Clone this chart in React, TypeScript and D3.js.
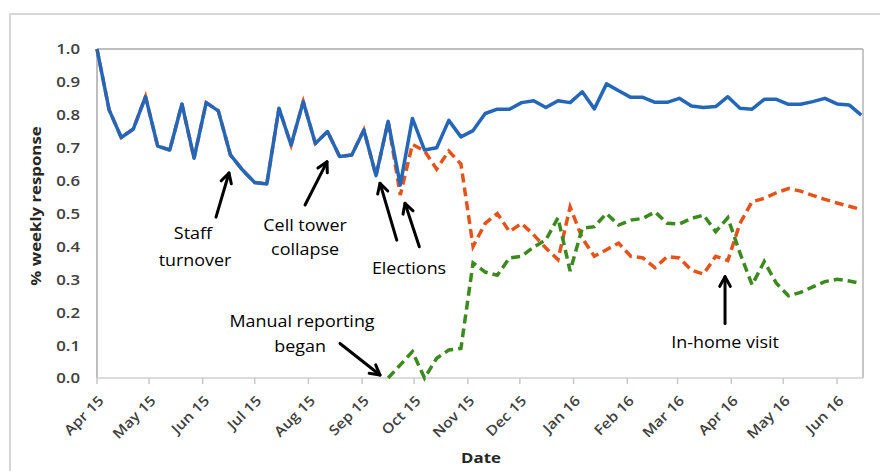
import React from 'react';
import * as d3 from 'd3';

// weekly response rates, one value per week starting Apr 1 2015
const smsAndManual = [
  1.0, 0.815, 0.731, 0.757, 0.855, 0.705, 0.693, 0.833, 0.668, 0.837,
  0.812, 0.678, 0.632, 0.594, 0.59, 0.82, 0.708, 0.84, 0.713, 0.749,
  0.673, 0.678, 0.754, 0.615, 0.78, 0.587, 0.789, 0.693, 0.7, 0.783,
  0.733, 0.752, 0.804, 0.817, 0.817, 0.837, 0.843, 0.822, 0.843, 0.837,
  0.87, 0.818, 0.894, 0.873, 0.853, 0.853, 0.838, 0.838, 0.85, 0.827,
  0.822, 0.825, 0.855, 0.82, 0.817, 0.847, 0.847, 0.832, 0.832, 0.84,
  0.85, 0.833, 0.83, 0.799,
];

const smsOnly = [
  1.0, 0.815, 0.731, 0.757, 0.855, 0.705, 0.693, 0.833, 0.668, 0.837,
  0.812, 0.678, 0.632, 0.594, 0.59, 0.82, 0.708, 0.84, 0.713, 0.749,
  0.673, 0.678, 0.754, 0.615, 0.78, 0.556, 0.71, 0.69, 0.635, 0.69,
  0.65, 0.4, 0.47, 0.5, 0.445, 0.47, 0.435, 0.395, 0.36, 0.52,
  0.425, 0.37, 0.39, 0.41, 0.37, 0.365, 0.335, 0.369, 0.365, 0.328,
  0.316, 0.37, 0.357, 0.47, 0.536, 0.546, 0.563, 0.576, 0.568, 0.555,
  0.543, 0.532, 0.522, 0.512,
];

const manualOnly = [
  null, null, null, null, null, null, null, null, null, null,
  null, null, null, null, null, null, null, null, null, null,
  null, null, null, null, 0.0, 0.04, 0.08, 0.0, 0.06, 0.085,
  0.09, 0.35, 0.322, 0.312, 0.365, 0.37, 0.398, 0.42, 0.487, 0.325,
  0.455, 0.46, 0.5, 0.465, 0.48, 0.485, 0.505, 0.47, 0.468, 0.485,
  0.495, 0.445, 0.487, 0.38, 0.283, 0.354, 0.288, 0.25, 0.26, 0.277,
  0.293, 0.3, 0.295, 0.287,
];

const monthLabels = [
  'Apr 15', 'May 15', 'Jun 15', 'Jul 15', 'Aug 15', 'Sep 15', 'Oct 15', 'Nov 15',
  'Dec 15', 'Jan 16', 'Feb 16', 'Mar 16', 'Apr 16', 'May 16', 'Jun 16',
];
const yTicks = [0, 0.1, 0.2, 0.3, 0.4, 0.5, 0.6, 0.7, 0.8, 0.9, 1.0];

// annotation positions in (week index, response) units
const arrows = [
  { from: [9.81, 0.489], to: [10.88, 0.623] },
  { from: [17.15, 0.526], to: [18.96, 0.657] },
  { from: [24.71, 0.419], to: [23.33, 0.592] },
  { from: [26.57, 0.399], to: [25.39, 0.531] },
  { from: [20.03, 0.105], to: [23.33, 0.009] },
  { from: [51.77, 0.166], to: [51.77, 0.308] },
];
const notes = [
  { text: 'Staff', at: [7.91, 0.441] },
  { text: 'turnover', at: [8.08, 0.359] },
  { text: 'Cell tower', at: [17.15, 0.465] },
  { text: 'collapse', at: [17.15, 0.392] },
  { text: 'Elections', at: [25.72, 0.334] },
  { text: 'Manual reporting', at: [16.9, 0.173] },
  { text: 'began', at: [16.74, 0.097] },
  { text: 'In-home visit', at: [51.77, 0.109] },
];

const startDate = new Date(2015, 3, 1);
const endDate = new Date(2016, 5, 16);
const weekDates = d3.range(smsAndManual.length).map(i => d3.timeDay.offset(startDate, 7 * i));
const monthDates = monthLabels.map((_, i) => d3.timeMonth.offset(startDate, i));

const FONT = '"Open Sans", "Liberation Sans", sans-serif';
const STRETCH = 1.12;

export default function App() {
  const margin = { left: 97, right: 863, top: 49, bottom: 378 };
  const x = d3.scaleTime().domain([startDate, endDate]).range([margin.left, margin.right]);
  const y = d3.scaleLinear().domain([0, 1]).range([margin.bottom, margin.top]);

  const xw = (w: number) => x(new Date(startDate.getTime() + w * 7 * 86400000));

  const line = d3.line<number | null>()
    .defined(d => d != null)
    .x((_, i) => x(weekDates[i]))
    .y(d => y(d as number));

  const arrowHead = (fx: number, fy: number, tx: number, ty: number) => {
    const a = Math.atan2(ty - fy, tx - fx);
    const len = 11;
    const spread = 0.5;
    const p1 = [tx - len * Math.cos(a - spread), ty - len * Math.sin(a - spread)];
    const p2 = [tx - len * Math.cos(a + spread), ty - len * Math.sin(a + spread)];
    return `M${p1[0]},${p1[1]}L${tx},${ty}L${p2[0]},${p2[1]}`;
  };

  return (
    <svg width={880} height={471} style={{ position: 'absolute', left: 0, top: 0, background: '#fff' }}>
      <rect x={10} y={14} width={900} height={500} fill="#fff" stroke="#d6d6d6" strokeWidth={2} />

      {/* plot frame */}
      <line x1={margin.left} x2={margin.right} y1={margin.top} y2={margin.top} stroke="#a8a8a8" strokeWidth={1.5} />
      <line x1={margin.right} x2={margin.right} y1={margin.top} y2={margin.bottom} stroke="#b4b4b4" strokeWidth={1.5} />
      <line x1={margin.left} x2={margin.left} y1={margin.top} y2={margin.bottom} stroke="#a8a8a8" strokeWidth={1.5} />
      <line x1={margin.left} x2={margin.right} y1={margin.bottom} y2={margin.bottom} stroke="#d0d0d0" strokeWidth={1.5} />
      {monthDates.map((d, i) => (
        <line key={i} x1={x(d)} x2={x(d)} y1={margin.bottom} y2={margin.bottom + 6} stroke="#c8c8c8" strokeWidth={1.5} />
      ))}

      {/* y ticks */}
      {yTicks.map(t => (
        <text key={t} transform={`translate(80,${y(t)}) scale(${STRETCH},1)`} dy="0.36em" textAnchor="end"
          fontFamily={FONT} fontSize={15} fontWeight={600} fill="#404040">{t.toFixed(1)}</text>
      ))}

      {/* x ticks */}
      {monthDates.map((d, i) => (
        <text key={i} transform={`translate(${x(d) + 4},${margin.bottom + 20}) rotate(-45) scale(${STRETCH},1)`}
          dy="0.36em" textAnchor="end" fontFamily={FONT} fontSize={14} fontWeight={600} fill="#404040">{monthLabels[i]}</text>
      ))}

      {/* axis titles */}
      <text transform={`translate(${481},458) scale(${STRETCH},1)`} textAnchor="middle" dy="0.36em"
        fontFamily={FONT} fontSize={15} fontWeight={700} fill="#262626">Date</text>
      <text transform={`translate(36,206) rotate(-90) scale(${STRETCH},1)`} textAnchor="middle" dy="0.36em"
        fontFamily={FONT} fontSize={15} fontWeight={700} fill="#262626">% weekly response</text>

      {/* series */}
      <path d={line(smsOnly) || ''} fill="none" stroke="#e4541a" strokeWidth={3.5} strokeDasharray="9,5" />
      <path d={line(manualOnly) || ''} fill="none" stroke="#3a8a1e" strokeWidth={3.5} strokeDasharray="9,5" />
      <path d={line(smsAndManual) || ''} fill="none" stroke="#2466b8" strokeWidth={3.5} strokeLinejoin="round" />

      {/* annotations */}
      {arrows.map((a, i) => {
        const fx = xw(a.from[0]), fy = y(a.from[1]);
        const tx = xw(a.to[0]), ty = y(a.to[1]);
        return (
          <g key={i} stroke="#000" strokeWidth={3} fill="none" strokeLinecap="round" strokeLinejoin="round">
            <line x1={fx} y1={fy} x2={tx} y2={ty} />
            <path d={arrowHead(fx, fy, tx, ty)} />
          </g>
        );
      })}
      {notes.map((n, i) => (
        <text key={i} transform={`translate(${xw(n.at[0])},${y(n.at[1])}) scale(${STRETCH},1)`} dy="0.36em"
          textAnchor="middle" fontFamily={FONT} fontSize={16} fill="#000">{n.text}</text>
      ))}
    </svg>
  );
}
